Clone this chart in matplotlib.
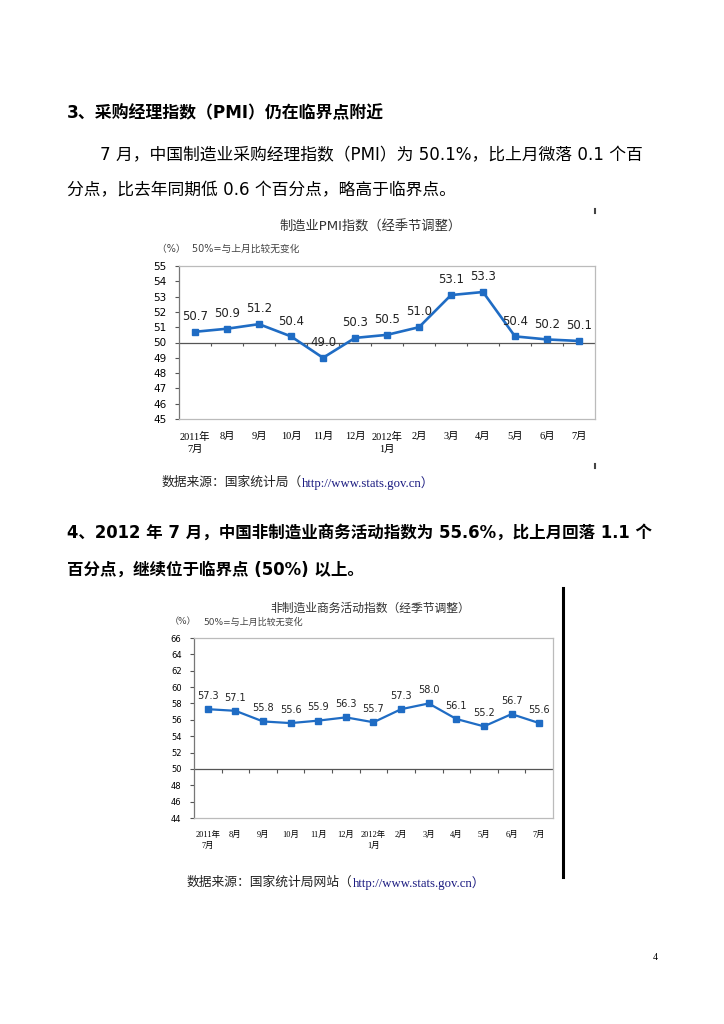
import numpy as np
import matplotlib.pyplot as plt

plt.rcParams['font.family'] = ['DejaVu Sans', 'Noto Sans CJK SC']

# datos de los dos graficos
meses = ['2011年\n7月', '8月', '9月', '10月', '11月', '12月', '2012年\n1月',
         '2月', '3月', '4月', '5月', '6月', '7月']
pmi = [50.7, 50.9, 51.2, 50.4, 49.0, 50.3, 50.5, 51.0, 53.1, 53.3, 50.4, 50.2, 50.1]
no_manuf = [57.3, 57.1, 55.8, 55.6, 55.9, 56.3, 55.7, 57.3, 58.0, 56.1, 55.2, 56.7, 55.6]
ticks_pmi = list(range(45, 56))
ticks_nm = list(range(44, 67, 2))

W, H = 724, 1024
fig = plt.figure(figsize=(W / 100, H / 100), dpi=100)
azul = '#1f6cc4'
serif = ['Liberation Serif', 'Noto Sans CJK SC']


def px(x, y):
    return x / W, 1 - y / H


def texto(x, y, s, **kw):
    fx, fy = px(x, y)
    return fig.text(fx, fy, s, va='center', **kw)


# textos del documento
texto(67, 113, '3、采购经理指数（PMI）仍在临界点附近', fontsize=12.2, fontweight='bold')
texto(100, 155, '7 月，中国制造业采购经理指数（PMI）为 50.1%，比上月微落 0.1 个百', fontsize=12.1)
texto(67, 190, '分点，比去年同期低 0.6 个百分点，略高于临界点。', fontsize=12.1)
texto(67, 533, '4、2012 年 7 月，中国非制造业商务活动指数为 55.6%，比上月回落 1.1 个',
      fontsize=11.9, fontweight='bold')
texto(67, 570, '百分点，继续位于临界点 (50%) 以上。', fontsize=11.9, fontweight='bold')


def grafico(caja, datos, yt, tam_et, off, tam_tick, lw, ms):
    x0, y0, x1, y1 = caja
    ax = fig.add_axes([x0 / W, 1 - y1 / H, (x1 - x0) / W, (y1 - y0) / H])
    x = np.arange(len(datos))
    ax.plot(x, datos, color=azul, lw=lw, marker='s', ms=ms, zorder=3)
    for xi, v in zip(x, datos):
        ax.annotate(f'{v:.1f}', (xi, v), xytext=(0, off), textcoords='offset points',
                    ha='center', va='center', fontsize=tam_et, color='#222222')
    ax.axhline(50, color='#555555', lw=0.9, zorder=2)
    ax.vlines(np.arange(0.5, len(datos) - 1), 50 - (yt[-1] - yt[0]) * 0.025, 50,
              color='#555555', lw=0.8)
    ax.set_xlim(-0.5, len(datos) - 0.5)
    ax.set_ylim(yt[0], yt[-1])
    ax.set_yticks(yt)
    ax.set_xticks(x)
    ax.set_xticklabels(meses, family=serif, fontsize=tam_tick, linespacing=1.5)
    ax.tick_params(axis='x', length=0, pad=9)
    ax.tick_params(axis='y', length=3, width=0.8, color='#555555', labelsize=tam_tick, pad=6)
    for e in ax.spines.values():
        e.set_color('#bbbbbb')
        e.set_linewidth(0.9)
    ax.spines['left'].set_color('#777777')
    return ax


# grafico 1: PMI
grafico((179, 266, 595, 419), pmi, ticks_pmi, 8.5, 11, 7.5, 1.9, 4.5)
texto(370, 227, '制造业PMI指数（经季节调整）', fontsize=9.5, ha='center', color='#333333')
texto(157, 249, '（%）  50%=与上月比较无变化', fontsize=7, color='#444444')

# grafico 2: no manufacturero
grafico((194, 638, 553, 818), no_manuf, ticks_nm, 7, 9.5, 6, 1.6, 4)
texto(370, 608, '非制造业商务活动指数（经季节调整）', fontsize=8.5, ha='center', color='#333333')
texto(170, 622, '（%）', fontsize=6.5, color='#444444')
texto(203, 622, '50%=与上月比较无变化', fontsize=6.5, color='#444444')

# fuentes
fig.canvas.draw()
r = fig.canvas.get_renderer()
for x, y, pre in [(162, 483, '数据来源：国家统计局（'), (187, 883, '数据来源：国家统计局网站（')]:
    t = texto(x, y, pre, fontsize=9.2, family=serif, color='#222222')
    bb = t.get_window_extent(renderer=r)
    fig.text(bb.x1 / W, 1 - y / H, 'http://www.stats.gov.cn）', va='center', fontsize=9.2,
             family=serif, color='#1a1a80')

# marcas sueltas de la pagina
fig.add_artist(plt.Line2D([563 / W, 563 / W], [1 - 588 / H, 1 - 877 / H], color='black', lw=2.2))
for yy in (209, 464):
    fig.add_artist(plt.Line2D([595 / W, 595 / W], [1 - yy / H, 1 - (yy + 4) / H],
                              color='#444444', lw=1.5))
texto(655, 958, '4', fontsize=7, family=serif, ha='center')

fig.savefig('out.png', dpi=100)
